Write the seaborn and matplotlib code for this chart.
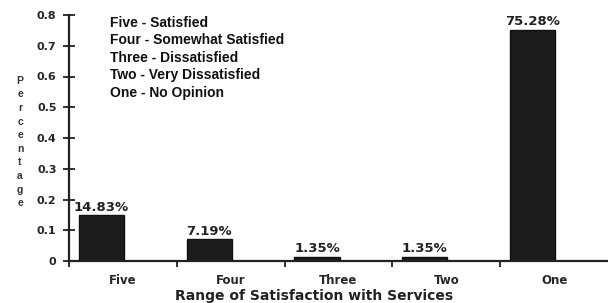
import numpy as np
import pandas as pd
import matplotlib
matplotlib.use('Agg')
import matplotlib.pyplot as plt
import seaborn as sns

categories = ['Five', 'Four', 'Three', 'Two', 'One']
shares = [0.1483, 0.0719, 0.0135, 0.0135, 0.7528]
bar_text = ['14.83%', '7.19%', '1.35%', '1.35%', '75.28%']
key_lines = ['Five - Satisfied', 'Four - Somewhat Satisfied', 'Three - Dissatisfied',
             'Two - Very Dissatisfied', 'One - No Opinion']
y_ticks = [0, 0.1, 0.2, 0.3, 0.4, 0.5, 0.6, 0.7, 0.8]

sns.set_style('white')
plt.rcParams['font.family'] = ['Liberation Sans', 'DejaVu Sans']
wide = 'DejaVu Sans'

df = pd.DataFrame({'cat': categories, 'share': shares})

fig = plt.figure(figsize=(6.08, 3.03), dpi=100)
ax = fig.add_axes([69 / 608, 1 - 261 / 303, 539 / 608, 246 / 303])

sns.barplot(data=df, x='cat', y='share', color='#1c1c1c', width=0.42,
            edgecolor='#111111', linewidth=1, saturation=1, ax=ax)

ax.bar_label(ax.containers[0], labels=bar_text, padding=1, fontsize=9.5,
             fontweight='bold', color='#222222', family=wide)

ax.set_xlim(-0.3, 4.7)
ax.set_ylim(0, 0.8)
ax.set_xticks(np.arange(len(categories)) + 0.2)
ax.set_xticklabels(categories, fontsize=8.5, fontweight='bold', family=wide)
ax.set_xticks(np.arange(len(categories)) - 0.3, minor=True)
ax.tick_params(axis='x', which='major', bottom=False, length=0, pad=9)
ax.tick_params(axis='x', which='minor', bottom=True, length=4.5, width=1.3,
               direction='out', color='#222222')

ax.set_yticks(y_ticks)
ax.set_yticklabels(['0' if v == 0 else f'{v:.1f}' for v in y_ticks],
                   fontsize=8, fontweight='bold', family=wide)
ax.tick_params(axis='y', left=True, length=8, width=1.3, direction='inout',
               color='#222222', pad=5)

sns.despine(ax=ax)
for s in ['left', 'bottom']:
    ax.spines[s].set_linewidth(1.6)
    ax.spines[s].set_color('#222222')

ax.set_xlabel('')
ax.set_ylabel('')
fig.text(314 / 608, 1 - 296 / 303, 'Range of Satisfaction with Services', ha='center',
         va='center', fontsize=10, fontweight='bold', family=wide, color='#222222')
fig.text(20 / 608, 1 - 142 / 303, '\n'.join('Percentage'), ha='center', va='center',
         fontsize=7.5, fontweight='bold', linespacing=1.45, color='#333333')

for i, line in enumerate(key_lines):
    fig.text(110 / 608, 1 - (23 + i * 17.5) / 303, line, ha='left', va='center',
             fontsize=10, fontweight='bold', color='#111111')

plt.savefig('out.png', dpi=100)
